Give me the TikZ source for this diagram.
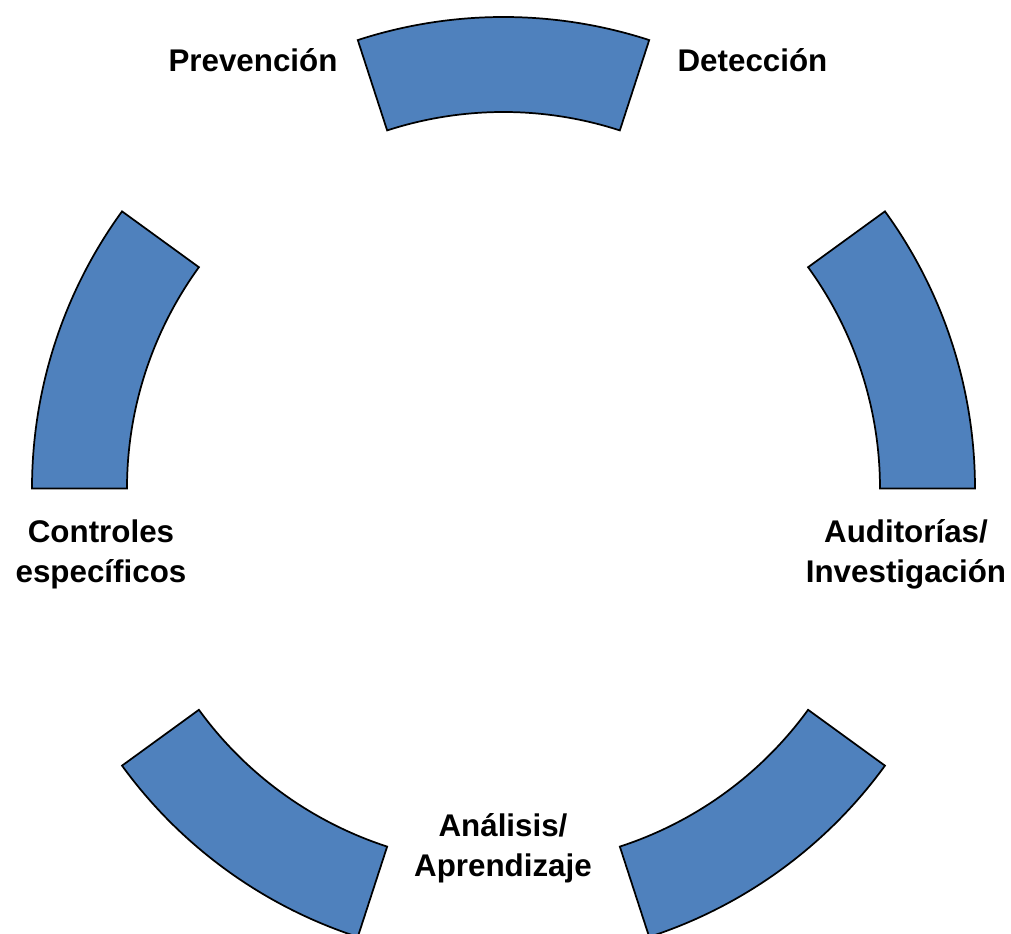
\documentclass[tikz,border=0pt]{standalone}
\usepackage{fontspec}
\setmainfont{Liberation Sans}
\usepackage{tikz}
\definecolor{segblue}{HTML}{4F81BD}

\begin{document}
\begin{tikzpicture}[x=0.75pt,y=0.75pt,
   seg/.style={fill=segblue,draw=black,line width=1.3pt},
   lab/.style={font=\fontsize{23.5pt}{30pt}\selectfont\bfseries,align=center,inner sep=0pt}]
   \useasboundingbox (-503.5,-444.5) rectangle (507.5,488.5);
   % ring segments, 36 degrees each
   \draw[seg] (0:376.5) arc[start angle=0,end angle=36,radius=376.5] -- (36:471.5) arc[start angle=36,end angle=0,radius=471.5] -- cycle;
   \draw[seg] (72:376.5) arc[start angle=72,end angle=108,radius=376.5] -- (108:471.5) arc[start angle=108,end angle=72,radius=471.5] -- cycle;
   \draw[seg] (144:376.5) arc[start angle=144,end angle=180,radius=376.5] -- (180:471.5) arc[start angle=180,end angle=144,radius=471.5] -- cycle;
   \draw[seg] (216:376.5) arc[start angle=216,end angle=252,radius=376.5] -- (252:471.5) arc[start angle=252,end angle=216,radius=471.5] -- cycle;
   \draw[seg] (288:376.5) arc[start angle=288,end angle=324,radius=376.5] -- (324:471.5) arc[start angle=324,end angle=288,radius=471.5] -- cycle;
   % labels (base = last line)
   \node[lab,anchor=base] (prev) at (-250.5,416.5) {Prevención};
   \node[lab,anchor=base] (detec) at (249,416.5) {Detección};
   \node[lab,anchor=base] (audit) at (402.5,-94) {Auditorías/\\Investigación};
   \node[lab,anchor=base] (anal) at (-0.5,-388) {Análisis/\\Aprendizaje};
   \node[lab,anchor=base] (contr) at (-402.5,-94) {Controles\\específicos};
\end{tikzpicture}
\end{document}
